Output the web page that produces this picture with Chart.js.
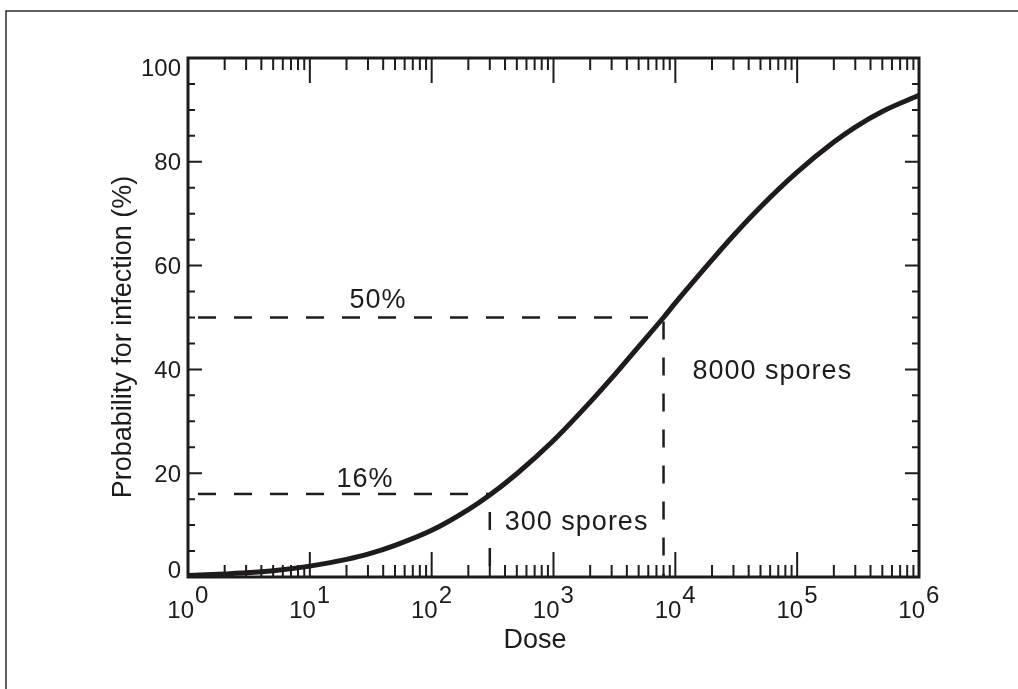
<!DOCTYPE html>
<html>
<head>
<meta charset="utf-8">
<script src="https://cdn.jsdelivr.net/npm/chart.js@4.4.1/dist/chart.umd.min.js"></script>
<style>
  html, body { margin: 0; padding: 0; background: #fff; }
  #wrap { width: 1018px; height: 689px; position: relative; }
</style>
</head>
<body>
<div id="wrap"><canvas id="grafico"></canvas></div>
<script>
// --- DADOS ---

// Dose (número de esporos) e probabilidade de infecção (%)
const doses = [1, 2, 3, 5, 10, 20, 30, 50, 100, 200, 300, 500, 1000, 2000, 3000, 5000,
               8000, 10000, 20000, 30000, 50000, 100000, 200000, 300000, 500000, 1000000];
const infeccao = [0.3, 0.6, 0.8, 1.2, 2.1, 3.4, 4.4, 6.1, 9.0, 13.0, 15.8, 19.9, 26.3, 33.7, 38.3, 44.4,
                  50.0, 52.8, 61.1, 65.8, 71.3, 78.0, 83.8, 86.7, 89.7, 92.8];

// Pontos marcados com linhas tracejadas
const dosesMarcadas = [300, 8000];
const probMarcadas = [16, 50];
const rotulosProb = ['16%', '50%'];
const rotulosDose = ['300 spores', '8000 spores'];

// Eixos
const expoentesX = [0, 1, 2, 3, 4, 5, 6];
const multiplicadoresMenores = [2, 3, 4, 5, 6, 7, 8, 9];
const rotulosY = [0, 20, 40, 60, 80, 100];
const passoMenorY = 5;
const tituloX = 'Dose';
const tituloY = 'Probability for infection (%)';


// --- CONSTANTES DE UI ---
const TINTA = '#1f1b1c';
const FONTE = '"Liberation Sans", Arial, Helvetica, sans-serif';


// --- DATASETS ---
const curva = doses.map((d, i) => ({ x: d, y: infeccao[i] }));

const tracejados = [];
dosesMarcadas.forEach((d, i) => {
    // horizontal: do eixo Y até a curva
    tracejados.push({
        data: [{ x: doses[0], y: probMarcadas[i] }, { x: d, y: probMarcadas[i] }],
        borderDashOffset: 26
    });
    // vertical: da curva até o eixo X
    tracejados.push({
        data: [{ x: d, y: probMarcadas[i] }, { x: d, y: rotulosY[0] }],
        borderDashOffset: i === 0 ? 18 : 32
    });
});


// --- PLUGIN: moldura, ticks internos e textos ---
const eixosPlugin = {
    id: 'eixosInternos',
    afterDatasetsDraw(chart) {
        const { ctx, chartArea: a, scales: { x, y } } = chart;
        ctx.save();

        // moldura da figura (só topo e esquerda visíveis)
        ctx.strokeStyle = '#2b2b2b';
        ctx.lineWidth = 1.5;
        ctx.beginPath();
        ctx.moveTo(6, chart.height);
        ctx.lineTo(6, 11);
        ctx.lineTo(chart.width, 11);
        ctx.stroke();

        // caixa do gráfico
        ctx.strokeStyle = TINTA;
        ctx.lineWidth = 3;
        ctx.strokeRect(a.left, a.top, a.right - a.left, a.bottom - a.top);

        // ticks do eixo X (para dentro, em cima e embaixo)
        ctx.lineWidth = 2;
        ctx.beginPath();
        const tickX = (px, len) => {
            ctx.moveTo(px, a.bottom); ctx.lineTo(px, a.bottom - len);
            ctx.moveTo(px, a.top); ctx.lineTo(px, a.top + len);
        };
        expoentesX.forEach((e, i) => {
            tickX(x.getPixelForValue(10 ** e), 25);
            if (i < expoentesX.length - 1) {
                multiplicadoresMenores.forEach(m => tickX(x.getPixelForValue(m * 10 ** e), 12));
            }
        });

        // ticks do eixo Y (esquerda e direita)
        const tickY = (py, len) => {
            ctx.moveTo(a.left, py); ctx.lineTo(a.left + len, py);
            ctx.moveTo(a.right, py); ctx.lineTo(a.right - len, py);
        };
        const yMax = rotulosY[rotulosY.length - 1];
        for (let v = rotulosY[0]; v <= yMax; v += passoMenorY) {
            tickY(y.getPixelForValue(v), rotulosY.includes(v) ? 14 : 7);
        }
        ctx.stroke();

        ctx.fillStyle = TINTA;

        // rótulos do eixo Y
        ctx.font = `24px ${FONTE}`;
        ctx.textAlign = 'right';
        ctx.textBaseline = 'alphabetic';
        rotulosY.forEach(v => {
            let cy = y.getPixelForValue(v);
            cy = Math.min(Math.max(cy, a.top + 9), a.bottom - 8);
            ctx.fillText(String(v), a.left - 7, cy + 8.5);
        });

        // rótulos do eixo X: 10 com expoente
        expoentesX.forEach(e => {
            const px = x.getPixelForValue(10 ** e);
            ctx.textAlign = 'right';
            ctx.fillText('10', px + 6, a.bottom + 41);
            ctx.textAlign = 'left';
            ctx.fillText(String(e), px + 7, a.bottom + 26);
        });

        // títulos dos eixos
        ctx.font = `27px ${FONTE}`;
        ctx.textAlign = 'center';
        ctx.fillText(tituloX, 535, a.bottom + 71);
        ctx.save();
        ctx.translate(131, 337);
        ctx.rotate(-Math.PI / 2);
        ctx.fillText(tituloY, 0, 0);
        ctx.restore();

        // anotações
        ctx.letterSpacing = '1px';
        ctx.textAlign = 'center';
        ctx.fillText(rotulosProb[1], a.left + 190, y.getPixelForValue(probMarcadas[1]) - 10);
        ctx.fillText(rotulosProb[0], a.left + 177, y.getPixelForValue(probMarcadas[0]) - 7);
        ctx.textAlign = 'left';
        ctx.fillText(rotulosDose[1], x.getPixelForValue(dosesMarcadas[1]) + 29, 379);
        ctx.fillText(rotulosDose[0], x.getPixelForValue(dosesMarcadas[0]) + 15, 530);

        ctx.restore();
    }
};


// --- GRÁFICO ---
new Chart(document.getElementById('grafico'), {
    type: 'line',
    data: {
        datasets: [
            {
                label: 'Probability for infection',
                data: curva,
                borderColor: TINTA,
                borderWidth: 5,
                pointRadius: 0,
                cubicInterpolationMode: 'monotone',
                order: 0
            },
            ...tracejados.map(t => ({
                data: t.data,
                borderColor: TINTA,
                borderWidth: 2.5,
                borderDash: [18, 18],
                borderDashOffset: t.borderDashOffset,
                pointRadius: 0,
                order: 1
            }))
        ]
    },
    options: {
        responsive: true,
        maintainAspectRatio: false,
        animation: false,
        events: [],
        layout: { padding: { left: 188, top: 58, right: 99, bottom: 112 } },
        plugins: {
            legend: { display: false },
            tooltip: { enabled: false }
        },
        scales: {
            x: { type: 'logarithmic', min: 1, max: 1000000, display: false },
            y: { type: 'linear', min: 0, max: 100, display: false }
        }
    },
    plugins: [eixosPlugin]
});
</script>
</body>
</html>
